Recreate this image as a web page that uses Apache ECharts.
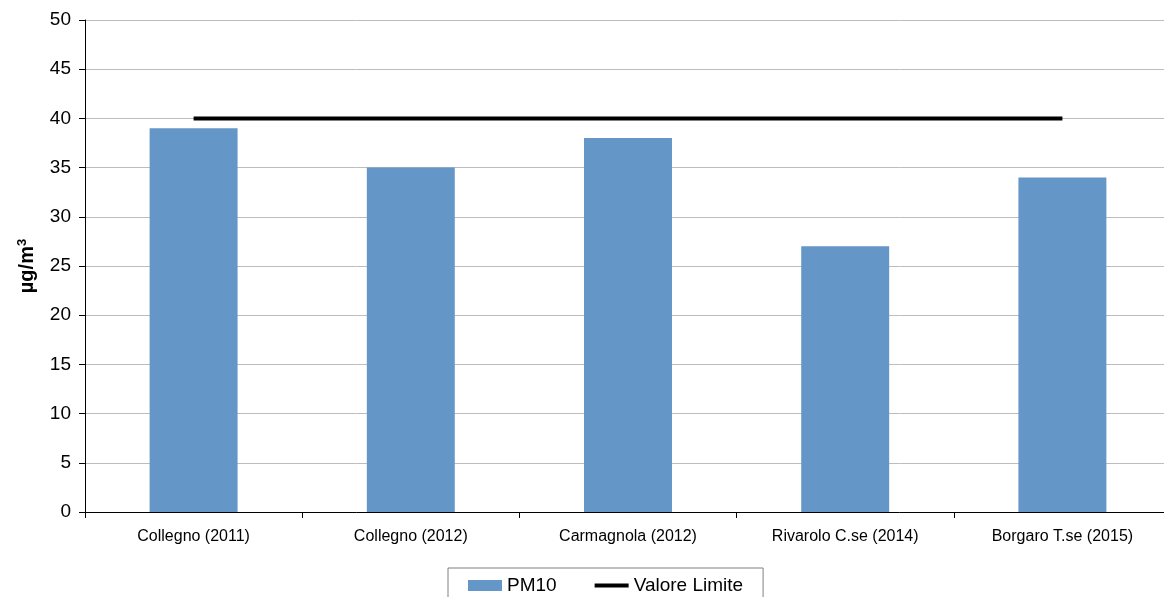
<!DOCTYPE html>
<html>
<head>
<meta charset="utf-8">
<script src="https://cdn.jsdelivr.net/npm/echarts@6/dist/echarts.min.js"></script>
<style>
  html, body { margin: 0; padding: 0; background: #fff; overflow: hidden; }
  /* il grafico originale è tagliato a destra: il riquadro è più largo della finestra */
  #chart { width: 1171px; height: 597px; }
</style>
</head>
<body>
<div id="chart"></div>
<script>
// dati
var stazioni = ['Collegno (2011)', 'Collegno (2012)', 'Carmagnola (2012)', 'Rivarolo C.se (2014)', 'Borgaro T.se (2015)']
var pm10 = [39, 35, 38, 27, 34]
var valoreLimite = [40, 40, 40, 40, 40]

var font = 'Liberation Sans, Arial, sans-serif'
var chart = echarts.init(document.getElementById('chart'))
chart.setOption({
  animation: false,
  textStyle: { fontFamily: font },
  grid: {
    left: 85,
    right: 0,
    top: 20,
    bottom: 85
  },
  legend: {
    left: 448,
    top: 568,
    itemGap: 38,
    padding: [8, 20, 8, 20],
    borderColor: '#808080',
    borderWidth: 1,
    itemWidth: 34,
    itemHeight: 11,
    textStyle: { color: '#000', fontSize: 19, fontFamily: font },
    data: [
      { name: 'PM10', icon: 'rect' },
      { name: 'Valore Limite', icon: 'path://M0,0 L34,0 L34,4 L0,4 Z' }
    ]
  },
  xAxis: {
    type: 'category',
    data: stazioni,
    axisLine: { lineStyle: { color: '#000', width: 1 } },
    axisTick: { show: true, length: 6, lineStyle: { color: '#000' } },
    axisLabel: { color: '#000', fontSize: 16, margin: 17, interval: 0 }
  },
  yAxis: {
    type: 'value',
    min: 0,
    max: 50,
    interval: 5,
    name: '{a|µg/m}{b|3}',
    nameLocation: 'middle',
    nameGap: 47,
    nameRotate: 90,
    nameTextStyle: {
      rich: {
        a: { fontSize: 20, fontWeight: 'bold', color: '#000', fontFamily: font },
        b: { fontSize: 13, fontWeight: 'bold', color: '#000', verticalAlign: 'top', padding: [0, 0, 9, 0], fontFamily: font }
      }
    },
    axisLine: { show: true, lineStyle: { color: '#000', width: 1 } },
    axisTick: { show: true, length: 6, inside: false, lineStyle: { color: '#000' } },
    axisLabel: { color: '#000', fontSize: 19, margin: 14 },
    splitLine: { lineStyle: { color: '#bdbdbd', width: 1 } }
  },
  series: [
    {
      name: 'PM10',
      type: 'bar',
      barWidth: '40.5%',
      itemStyle: { color: '#6496c8' },
      data: pm10
    },
    {
      name: 'Valore Limite',
      type: 'line',
      symbol: 'none',
      lineStyle: { color: '#000', width: 4 },
      itemStyle: { color: '#000' },
      data: valoreLimite
    }
  ]
})
</script>
</body>
</html>
